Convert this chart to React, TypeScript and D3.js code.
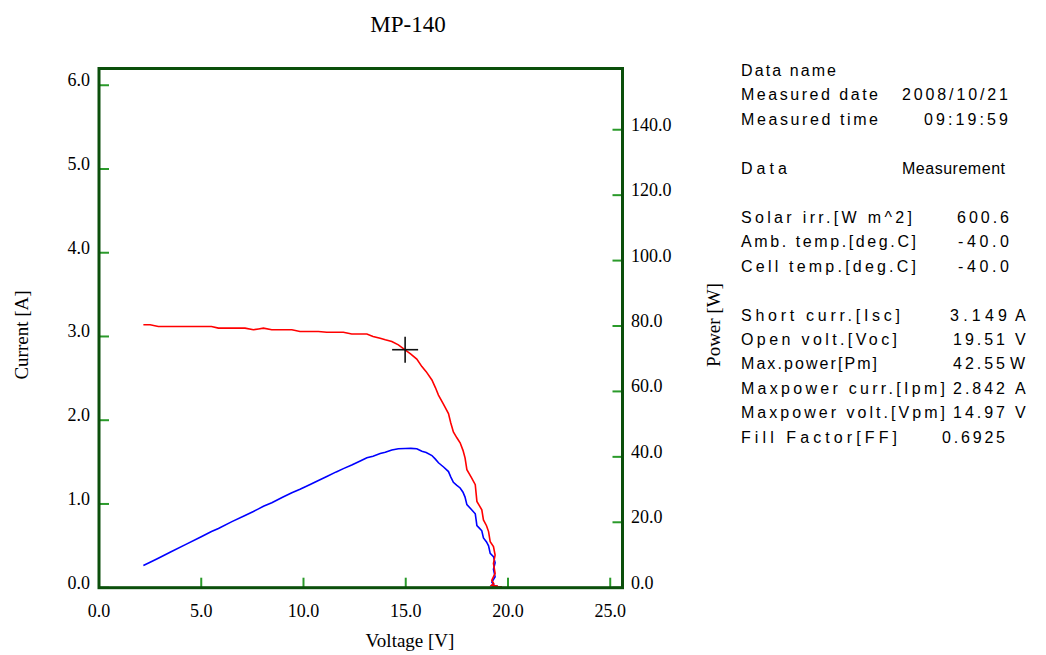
import React from "react";
import * as d3 from "d3";

// ---- data ----
const voltage = [2.17, 2.5, 2.9, 3.5, 4.2, 5.0, 5.5, 5.84, 6.5, 7.14, 7.55, 7.8, 8.04, 8.45, 9.0, 9.43, 9.83, 10.3, 10.73, 11.14, 11.6, 11.95, 12.36, 12.8, 13.1, 13.4, 13.75, 14.0, 14.32, 14.64, 14.97, 15.25, 15.54, 15.79, 16.0, 16.28, 16.45, 16.6, 16.85, 17.09, 17.2, 17.33, 17.5, 17.66, 17.8, 17.9, 17.99, 18.2, 18.4, 18.44, 18.48, 18.6, 18.72, 18.8, 18.95, 19.05, 19.13, 19.29, 19.37, 19.29, 19.37, 19.21, 19.3, 19.2, 19.5, 19.25, 19.7];
const current = [3.14, 3.14, 3.12, 3.12, 3.12, 3.12, 3.12, 3.10, 3.10, 3.10, 3.08, 3.09, 3.10, 3.08, 3.08, 3.08, 3.06, 3.06, 3.06, 3.05, 3.05, 3.05, 3.03, 3.03, 3.03, 3.0, 2.98, 2.96, 2.94, 2.90, 2.84, 2.79, 2.73, 2.64, 2.58, 2.48, 2.39, 2.30, 2.19, 2.08, 1.97, 1.86, 1.79, 1.73, 1.64, 1.55, 1.41, 1.32, 1.23, 1.13, 1.03, 0.98, 0.93, 0.81, 0.74, 0.67, 0.55, 0.49, 0.39, 0.29, 0.17, 0.09, 0.05, 0.03, 0.02, 0.01, 0.01];
const power = [6.8, 7.8, 9.0, 10.9, 13.1, 15.6, 17.2, 18.1, 20.2, 22.1, 23.3, 24.1, 24.9, 26.0, 27.7, 29.0, 30.1, 31.5, 32.8, 34.0, 35.4, 36.4, 37.5, 38.8, 39.7, 40.2, 41.0, 41.4, 42.1, 42.5, 42.55, 42.6, 42.5, 41.7, 41.3, 40.4, 39.3, 38.2, 36.9, 35.5, 33.9, 32.2, 31.3, 30.5, 29.2, 27.7, 25.4, 24.0, 22.6, 20.8, 19.0, 18.2, 17.4, 15.2, 14.0, 12.8, 10.5, 9.5, 7.6, 5.6, 3.3, 1.7, 1.0, 0.6, 0.4, 0.2, 0.2];

const xTicks = [0, 5, 10, 15, 20, 25];
const currentTicks = [0, 1, 2, 3, 4, 5, 6];
const powerTicks = [0, 20, 40, 60, 80, 100, 120, 140];

const maxPowerVolt = 14.97;
const maxPowerCurr = 2.842;

const title = "MP-140";
const xLabel = "Voltage [V]";
const yLeftLabel = "Current [A]";
const yRightLabel = "Power [W]";

// info panel rows
const panelLabels = ["Data name", "Measured date", "Measured time", "Data", "Solar irr.[W m^2]", "Amb. temp.[deg.C]", "Cell temp.[deg.C]", "Short curr.[Isc]", "Open volt.[Voc]", "Max.power[Pm]", "Maxpower curr.[Ipm]", "Maxpower volt.[Vpm]", "Fill Factor[FF]"];
const panelValues = ["", "2008/10/21", "09:19:59", "Measurement", "600.6", "-40.0", "-40.0", "3.149", "19.51", "42.55", "2.842", "14.97", "0.6925"];
const panelUnits = ["", "", "", "", "", "", "", "A", "V", "W", "A", "V", ""];

// layout of the panel (pixels)
const panelRow = [0, 1, 2, 4, 6, 7, 8, 10, 11, 12, 13, 14, 15];
const labelWidth = [95, 137, 137, 46, 171, 175, 175, 159, 156, 136, 204, 204, 156];
const valueX = [0, 902, 924, 902, 957, 958, 958, 950, 953, 953, 953, 953, 942];
const valueWidth = [0, 106, 84, 103, 52, 51, 51, 57, 52, 52, 52, 52, 63];
const unitX = [0, 0, 0, 0, 0, 0, 0, 1015, 1015, 1010, 1015, 1015, 0];

export default function App() {
  const W = 1046, H = 655;
  const left = 99, right = 622.5, top = 68.5, bottom = 587.7;
  const vMax = 25.6, iMax = 6.2;
  const x = d3.scaleLinear().domain([0, vMax]).range([left, right]);
  const yI = d3.scaleLinear().domain([0, iMax]).range([bottom, top]);
  const yP = d3.scaleLinear().domain([0, vMax * iMax]).range([bottom, top]);

  const ivLine = d3.line<number>().x((_, i) => x(voltage[i])).y((d) => yI(d));
  const pvLine = d3.line<number>().x((_, i) => x(voltage[i])).y((d) => yP(d));

  const frameColor = "#0b4f0b";
  const tickColor = "#2a9a2a";
  const serif = "'Liberation Serif', 'Times New Roman', serif";
  const sans = "'Liberation Sans', Arial, sans-serif";

  const mx = x(maxPowerVolt), my = yI(maxPowerCurr);

  return (
    <svg width={W} height={H} style={{ position: "absolute", left: 0, top: 0, background: "#fff" }}>
      <rect x={0} y={0} width={W} height={H} fill="#fff" />
      <text x={408} y={32} textAnchor="middle" fontFamily={serif} fontSize={23}>{title}</text>

      {/* ticks */}
      {xTicks.map((t) => (
        <g key={"x" + t}>
          <line x1={x(t)} x2={x(t)} y1={bottom} y2={bottom - 10} stroke={tickColor} strokeWidth={2} />
          <text x={x(t)} y={617} textAnchor="middle" fontFamily={serif} fontSize={18}>{t.toFixed(1)}</text>
        </g>
      ))}
      {currentTicks.map((t) => (
        <g key={"i" + t}>
          <line x1={left} x2={left + 10} y1={yI(t)} y2={yI(t)} stroke={tickColor} strokeWidth={2} />
          <text x={90} y={yI(t) + 1} textAnchor="end" fontFamily={serif} fontSize={18}>{t.toFixed(1)}</text>
        </g>
      ))}
      {powerTicks.map((t) => (
        <g key={"p" + t}>
          <line x1={right} x2={right - 10} y1={yP(t)} y2={yP(t)} stroke={tickColor} strokeWidth={2} />
          <text x={631} y={yP(t) + 1} textAnchor="start" fontFamily={serif} fontSize={18}>{t.toFixed(1)}</text>
        </g>
      ))}

      {/* curves */}
      <path d={pvLine(power) || ""} fill="none" stroke="#0000ff" strokeWidth={1.6} />
      <path d={ivLine(current) || ""} fill="none" stroke="#ff0000" strokeWidth={1.6} />

      {/* max power marker */}
      <line x1={mx - 13} x2={mx + 13} y1={my} y2={my} stroke="#111" strokeWidth={1.6} />
      <line x1={mx} x2={mx} y1={my - 13} y2={my + 13} stroke="#111" strokeWidth={1.6} />

      {/* frame */}
      <rect x={left} y={top} width={right - left} height={bottom - top} fill="none" stroke={frameColor} strokeWidth={3} />

      {/* axis titles */}
      <text x={410} y={647} textAnchor="middle" fontFamily={serif} fontSize={19}>{xLabel}</text>
      <text transform={`translate(28,335) rotate(-90)`} textAnchor="middle" fontFamily={serif} fontSize={19}>{yLeftLabel}</text>
      <text transform={`translate(720,325) rotate(-90)`} textAnchor="middle" fontFamily={serif} fontSize={19}>{yRightLabel}</text>

      {/* info panel */}
      {panelLabels.map((lab, k) => {
        const by = 76 + panelRow[k] * 24.45;
        return (
          <g key={"r" + k} fontFamily={sans} fontSize={16}>
            <text x={741} y={by} textLength={labelWidth[k]} lengthAdjust="spacing">{lab}</text>
            {panelValues[k] && (
              <text x={valueX[k]} y={by} textLength={valueWidth[k]} lengthAdjust="spacing">{panelValues[k]}</text>
            )}
            {panelUnits[k] && <text x={unitX[k]} y={by}>{panelUnits[k]}</text>}
          </g>
        );
      })}
    </svg>
  );
}
